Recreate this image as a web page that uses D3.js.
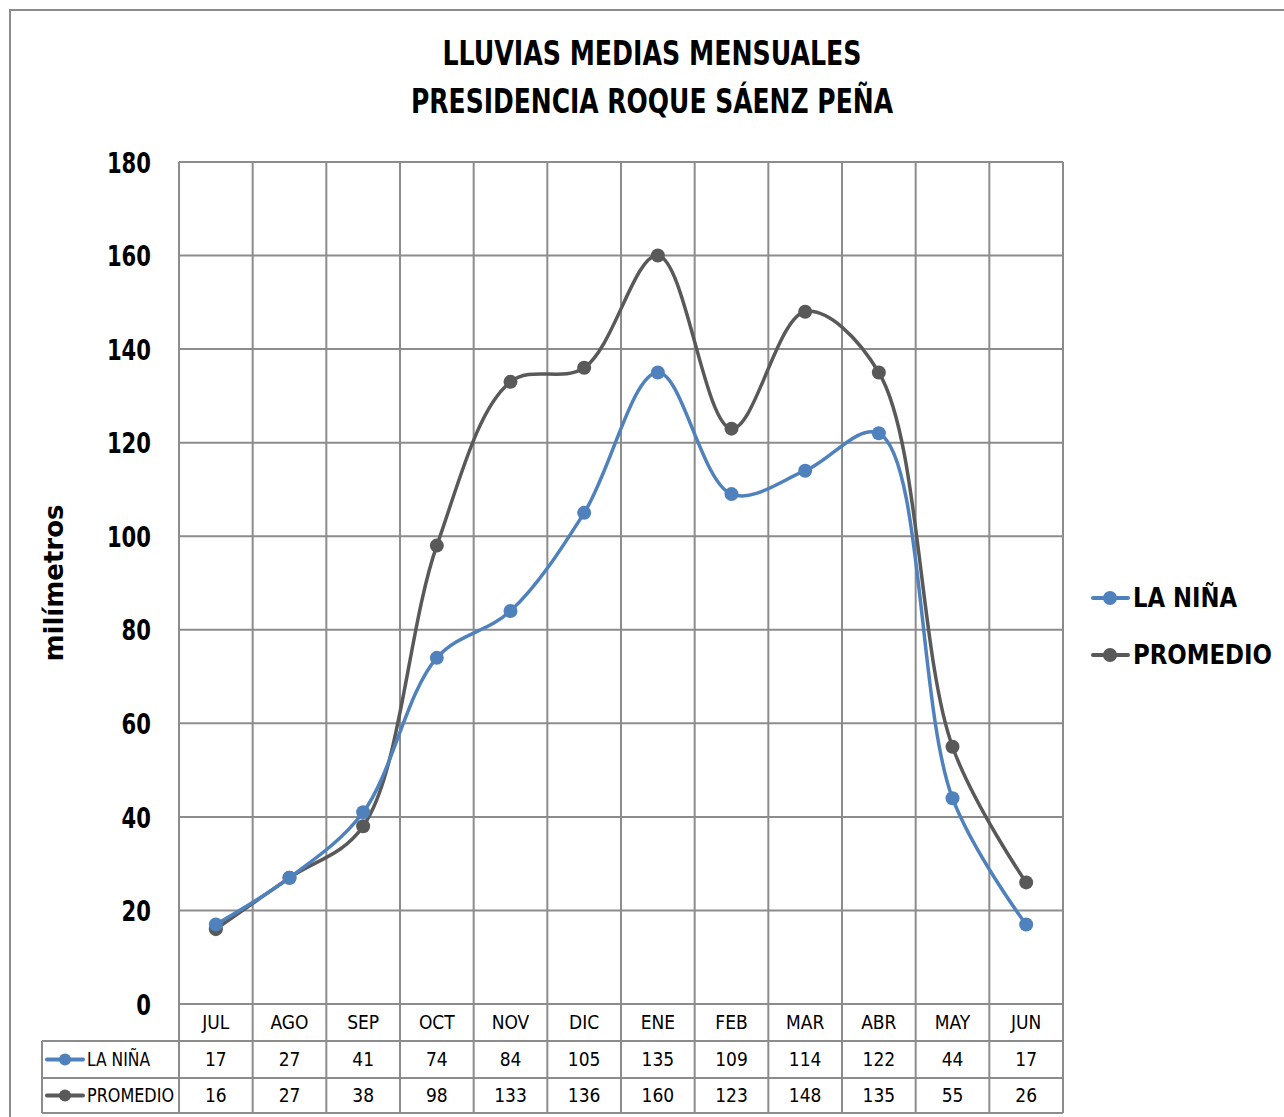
<!DOCTYPE html>
<html><head><meta charset="utf-8">
<script src="https://cdn.jsdelivr.net/npm/d3@7"></script>
<style>body{margin:0;background:#fff}svg{display:block}</style>
</head><body>
<script>
const months = ["JUL","AGO","SEP","OCT","NOV","DIC","ENE","FEB","MAR","ABR","MAY","JUN"];
const laNina = [17,27,41,74,84,105,135,109,114,122,44,17];
const promedio = [16,27,38,98,133,136,160,123,148,135,55,26];
const yTicks = [0,20,40,60,80,100,120,140,160,180];
const seriesNames = ["LA NIÑA","PROMEDIO"];
const seriesColors = ["#4F81BD","#595959"];

const W=1284,H=1117;
const FONT = "'Liberation Sans Narrow','DejaVu Sans Condensed','Arial Narrow',sans-serif";
const svg = d3.select("body").append("svg").attr("width",W).attr("height",H);
const L=179,R=1063,T=162,B=1004;
const x = d3.scaleBand().domain(months).range([L,R]);
const y = d3.scaleLinear().domain([0,180]).range([B,T]);
const grid="#8c8c8c";

svg.append("rect").attr("x",10).attr("y",10).attr("width",W+20).attr("height",H+20)
  .attr("fill","none").attr("stroke","#8c8c8c").attr("stroke-width",2);

// title
const title = svg.append("text").attr("text-anchor","middle").attr("font-family",FONT)
  .attr("font-weight","bold").attr("font-size",34).attr("fill","#000");
title.append("tspan").attr("x",652).attr("y",65).attr("textLength",419).attr("lengthAdjust","spacingAndGlyphs").text("LLUVIAS MEDIAS MENSUALES");
title.append("tspan").attr("x",652).attr("y",113).attr("textLength",482).attr("lengthAdjust","spacingAndGlyphs").text("PRESIDENCIA ROQUE SÁENZ PEÑA");

// horizontal grid
svg.append("g").selectAll("line").data(yTicks).join("line")
  .attr("x1",L).attr("x2",R).attr("y1",d=>y(d)).attr("y2",d=>y(d))
  .attr("stroke",grid).attr("stroke-width",2);
// vertical grid (through table)
const tableRows=[B,1041,1078,1113];
const vx = months.map(m=>x(m)).concat([R]);
svg.append("g").selectAll("line").data(vx).join("line")
  .attr("x1",d=>d).attr("x2",d=>d).attr("y1",T).attr("y2",tableRows[3])
  .attr("stroke",grid).attr("stroke-width",2);
[1,2,3].forEach(k=>{
  svg.append("line").attr("x1",42).attr("x2",R).attr("y1",tableRows[k]).attr("y2",tableRows[k]).attr("stroke",grid).attr("stroke-width",2);
});
svg.append("line").attr("x1",42).attr("x2",42).attr("y1",tableRows[1]).attr("y2",tableRows[3]).attr("stroke",grid).attr("stroke-width",2);

// y axis labels
const yAxis = d3.axisLeft(y).tickValues(yTicks).tickSize(0).tickPadding(28);
const ya = svg.append("g").attr("transform",`translate(${L},0)`).call(yAxis);
ya.select(".domain").remove();
ya.selectAll("text").attr("font-family",FONT).attr("font-weight","bold").attr("font-size",29).attr("fill","#000").attr("dy","0.35em")
  .attr("textLength",d=>String(d).length*14.7).attr("lengthAdjust","spacingAndGlyphs");

svg.append("text").attr("transform","translate(63,583) rotate(-90)").attr("text-anchor","middle")
  .attr("font-family","'DejaVu Sans','Noto Sans',sans-serif").attr("font-weight","bold").attr("font-size",26)
  .attr("textLength",157).attr("lengthAdjust","spacingAndGlyphs").text("milímetros");

// table text
const cx = m=>x(m)+x.bandwidth()/2;
svg.append("g").selectAll("text").data(months).join("text")
  .attr("x",d=>cx(d)).attr("y",(tableRows[0]+tableRows[1])/2).attr("dy","0.35em").attr("text-anchor","middle")
  .attr("font-family",FONT).attr("font-size",19).text(d=>d);
const tLegLen=[63,87];
[laNina,promedio].forEach((s,i)=>{
  const ym=(tableRows[i+1]+tableRows[i+2])/2;
  svg.append("g").selectAll("text").data(s).join("text")
    .attr("x",(d,j)=>cx(months[j])).attr("y",ym).attr("dy","0.35em").attr("text-anchor","middle")
    .attr("font-family",FONT).attr("font-size",19).text(d=>d);
  svg.append("line").attr("x1",47).attr("x2",83).attr("y1",ym).attr("y2",ym).attr("stroke",seriesColors[i]).attr("stroke-width",4).attr("stroke-linecap","round");
  svg.append("circle").attr("cx",65).attr("cy",ym).attr("r",6).attr("fill",seriesColors[i]);
  svg.append("text").attr("x",87).attr("y",ym).attr("dy","0.35em").attr("font-family",FONT).attr("font-size",19)
    .attr("textLength",tLegLen[i]).attr("lengthAdjust","spacingAndGlyphs").text(seriesNames[i]);
});

// lines
const line = d3.line().x((d,j)=>cx(months[j])).y(d=>y(d)).curve(d3.curveCatmullRom.alpha(0.5));
[promedio,laNina].forEach((s,k)=>{
  const i = k===0?1:0;
  svg.append("path").datum(s).attr("d",line).attr("fill","none").attr("stroke",seriesColors[i]).attr("stroke-width",3.5);
  svg.append("g").selectAll("circle").data(s).join("circle")
    .attr("cx",(d,j)=>cx(months[j])).attr("cy",d=>y(d)).attr("r",7).attr("fill",seriesColors[i]);
});

// legend
const legLen=[104,139];
seriesNames.forEach((n,i)=>{
  const ly = 598 + i*57;
  svg.append("line").attr("x1",1093).attr("x2",1128).attr("y1",ly).attr("y2",ly).attr("stroke",seriesColors[i]).attr("stroke-width",4).attr("stroke-linecap","round");
  svg.append("circle").attr("cx",1110).attr("cy",ly).attr("r",7).attr("fill",seriesColors[i]);
  svg.append("text").attr("x",1133).attr("y",ly).attr("dy","0.35em").attr("font-family",FONT).attr("font-weight","bold").attr("font-size",27)
    .attr("textLength",legLen[i]).attr("lengthAdjust","spacingAndGlyphs").text(n);
});
</script>
</body></html>
